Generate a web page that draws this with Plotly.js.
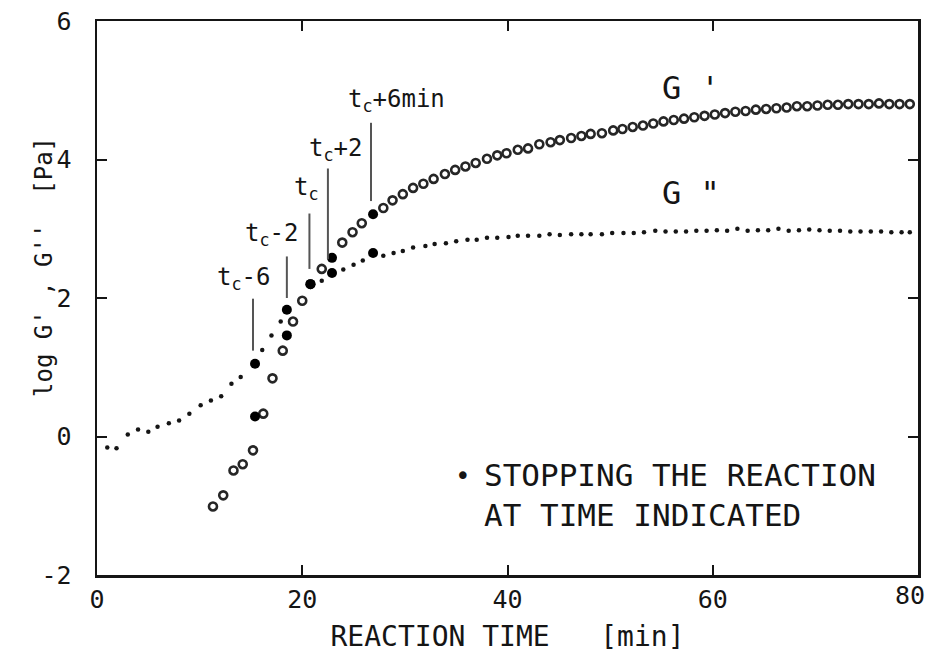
<!DOCTYPE html>
<html>
<head>
<meta charset="utf-8">
<script src="https://cdn.plot.ly/plotly-3.0.1.min.js"></script>
<style>html,body{margin:0;padding:0;background:#fff;}#chart{width:930px;height:659px;}</style>
</head>
<body>
<div id="chart"></div>
<script>
// G' (storage modulus), log Pa, vs reaction time in min
var gpTime = [11.3,12.3,13.3,14.2,15.2,16.2,17.1,18.1,19.1,20.0,21.9,23.9,24.9,25.8,
  27.9,28.8,29.8,30.8,31.8,32.8,33.9,34.9,35.9,36.9,38.0,39.0,39.9,41.0,42.0,43.1,44.2,45.1,46.2,47.2,48.1,49.2,50.3,
  51.2,52.2,53.2,54.2,55.2,56.2,57.2,58.2,59.2,60.2,61.2,62.2,63.2,64.2,65.2,66.2,67.2,68.2,69.2,70.2,71.2,72.2,73.2,74.2,75.2,76.2,77.2,78.2,79.2];
var gpValue = [-1.01,-0.85,-0.49,-0.40,-0.20,0.33,0.84,1.24,1.66,1.96,2.42,2.80,2.95,3.08,
  3.30,3.41,3.50,3.59,3.65,3.72,3.79,3.85,3.90,3.95,4.01,4.06,4.09,4.14,4.16,4.22,4.25,4.28,4.31,4.34,4.37,4.38,4.42,
  4.44,4.47,4.49,4.52,4.55,4.57,4.59,4.61,4.63,4.65,4.67,4.69,4.70,4.72,4.73,4.74,4.75,4.77,4.77,4.78,4.79,4.79,4.80,4.80,4.80,4.81,4.80,4.80,4.80];

// G'' (loss modulus)
var gppTime = [1.0,1.9,3.0,4.0,5.0,5.9,7.0,8.0,9.0,10.1,11.1,12.1,13.1,14.0,16.1,17.0,17.9,21.9,24.0,25.0,25.9,
  27.9,28.9,29.8,30.8,32.0,32.9,34.0,35.0,36.1,37.0,38.0,39.0,40.1,41.0,42.0,43.1,44.1,45.1,46.2,47.2,48.1,49.2,
  50.2,51.3,52.3,53.3,54.4,55.4,56.4,57.4,58.4,59.4,60.4,61.4,62.4,63.4,64.4,65.4,66.4,67.4,68.4,69.4,70.4,71.4,72.4,73.4,74.4,75.4,76.4,77.4,78.4,79.2];
var gppValue = [-0.16,-0.17,0.03,0.10,0.07,0.14,0.19,0.23,0.33,0.45,0.52,0.58,0.76,0.86,1.25,1.46,1.66,2.25,2.41,2.48,2.54,
  2.61,2.65,2.68,2.73,2.75,2.78,2.79,2.82,2.84,2.84,2.87,2.87,2.88,2.90,2.90,2.90,2.92,2.91,2.92,2.92,2.92,2.92,
  2.94,2.94,2.94,2.95,2.97,2.96,2.96,2.96,2.97,2.97,2.98,2.97,3.00,2.97,2.98,2.98,3.00,2.97,2.98,2.99,2.98,2.97,2.97,2.96,2.96,2.96,2.96,2.95,2.95,2.95];

// Points where the reaction was stopped
var stopTime = [15.4,18.5,20.8,22.9,26.9];
var stopGp   = [0.29,1.46,2.20,2.58,3.21];
var stopGpp  = [1.05,1.83,2.20,2.36,2.65];
var stopLabels = ['t<sub>c</sub>-6','t<sub>c</sub>-2','t<sub>c</sub>','t<sub>c</sub>+2','t<sub>c</sub>+6min'];
// arrow positions (time), arrow top / tip (log G), label centre positions
var arrowTime = [15.2,18.5,20.7,22.5,26.7];
var arrowTop  = [1.99,2.60,3.22,3.87,4.53];
var arrowTip  = [1.24,2.00,2.42,2.56,3.40];
var labelTime = [14.3,17.0,20.4,23.2,29.2];
var labelVal  = [2.28,2.92,3.58,4.15,4.85];

var xTicks = [0,20,40,60,80];
var yTicks = [-2,0,2,4,6];

var FONT = 'DejaVu Sans Mono, monospace';
var INK = '#151515';

var traces = [
  {x: gpTime, y: gpValue, mode:'markers', type:'scatter', name:"G'",
   marker:{symbol:'circle-open', size:8, color:'#262626', line:{width:2.6, color:'#262626'}}},
  {x: gppTime, y: gppValue, mode:'markers', type:'scatter', name:'G"',
   marker:{symbol:'circle', size:4.5, color:INK}},
  {x: stopTime, y: stopGp, mode:'markers', type:'scatter', name:'stop G\'',
   marker:{symbol:'circle', size:10, color:'#000'}},
  {x: stopTime, y: stopGpp, mode:'markers', type:'scatter', name:'stop G"',
   marker:{symbol:'circle', size:10, color:'#000'}}
];

var shapes = [];
var annotations = [];
for (var i = 0; i < stopLabels.length; i++) {
  shapes.push({type:'line', xref:'x', yref:'y', x0:arrowTime[i], x1:arrowTime[i], y0:arrowTop[i], y1:arrowTip[i],
    line:{color:'#555', width:2}});
  annotations.push({x: labelTime[i], y: labelVal[i], xref:'x', yref:'y', text: stopLabels[i],
    showarrow:false, font:{family:FONT, size:24, color:INK}});
}
annotations.push({x:54.9, y:5.03, xref:'x', yref:'y', xanchor:'left', text:"G\u00a0'", showarrow:false,
  font:{family:FONT, size:32, color:INK}});
annotations.push({x:54.9, y:3.51, xref:'x', yref:'y', xanchor:'left', text:'G\u00a0"', showarrow:false,
  font:{family:FONT, size:32, color:INK}});
annotations.push({x:35.7, y:-0.57, xref:'x', yref:'y', text:'\u2022', showarrow:false,
  font:{family:FONT, size:26, color:INK}});
annotations.push({x:37.5, y:-0.84, xref:'x', yref:'y', xanchor:'left', align:'left',
  text:'STOPPING THE REACTION<br>AT TIME INDICATED', showarrow:false,
  font:{family:FONT, size:31, color:INK}});
// y-axis title (placed as in the original figure, above the axis centre)
annotations.push({x:-0.084, y:0.556, xref:'paper', yref:'paper', textangle:-90,
  text:"log G' , G''\u00a0\u00a0[Pa]", showarrow:false, font:{family:FONT, size:24, color:INK}});
// last x tick label, pulled inside the page like in the original
annotations.push({x:1.0105, y:-0.008, xref:'paper', yref:'paper', xanchor:'right', yanchor:'top',
  text:String(xTicks[xTicks.length-1]), showarrow:false, font:{family:FONT, size:25, color:INK}});

var xTickText = xTicks.map(function(v, k){ return k === xTicks.length-1 ? ' ' : String(v); });

var layout = {
  width:930, height:659,
  margin:{l:97, r:12, t:21, b:84},
  paper_bgcolor:'#fff', plot_bgcolor:'#fff',
  showlegend:false,
  font:{family:FONT, color:INK},
  xaxis:{range:[0,80], tickvals:xTicks, ticktext:xTickText, ticks:'inside', ticklen:10, tickwidth:2,
    tickcolor:INK, showline:true, linewidth:2.5, linecolor:INK, mirror:'ticks', showgrid:false, zeroline:false,
    tickfont:{family:FONT, size:25, color:INK}, automargin:false,
    title:{text:'REACTION TIME\u00a0\u00a0\u00a0[min]', font:{family:FONT, size:28, color:INK}, standoff:14}},
  yaxis:{range:[-2,6], tickvals:yTicks, ticktext:yTicks.map(String), ticks:'inside', ticklen:10, tickwidth:2,
    tickcolor:INK, showline:true, linewidth:2.5, linecolor:INK, mirror:'ticks', showgrid:false, zeroline:false,
    tickfont:{family:FONT, size:25, color:INK}, automargin:false, ticklabelstandoff:18, ticklabeloverflow:'allow'},
  shapes: shapes,
  annotations: annotations
};

Plotly.newPlot('chart', traces, layout, {displayModeBar:false, staticPlot:true});
</script>
</body>
</html>
